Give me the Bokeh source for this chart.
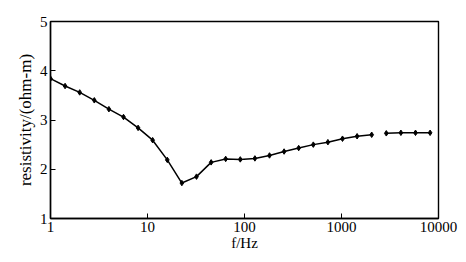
from bokeh.plotting import figure
from bokeh.models import Range1d, FixedTicker
from bokeh.embed import file_html
from bokeh.resources import INLINE

freq = [1, 1.414, 2, 2.83, 4, 5.66, 8, 11.3, 16, 22.6, 32, 45.3, 64, 90.5,
        128, 181, 256, 362, 512, 724, 1024, 1448, 2048, 2896, 4096, 5793, 8192]
resistivity = [3.84, 3.69, 3.56, 3.40, 3.22, 3.06, 2.84, 2.59, 2.19, 1.72, 1.85,
               2.14, 2.21, 2.20, 2.22, 2.28, 2.36, 2.43, 2.50, 2.55, 2.62, 2.67,
               2.70, 2.73, 2.74, 2.74, 2.74]
x_ticks = [1, 10, 100, 1000, 10000]
y_ticks = [1, 2, 3, 4, 5]
split = 23  # the curve is broken between 2048 Hz and 2896 Hz

FONT = "Liberation Serif"

p = figure(width=466, height=262, x_axis_type="log", output_backend="svg",
           toolbar_location=None, x_range=Range1d(1, 10000), y_range=Range1d(1, 5),
           min_border_left=50, min_border_right=28, min_border_top=21, min_border_bottom=44)
p.background_fill_color = "white"
p.border_fill_color = "white"
p.outline_line_color = "black"
p.outline_line_width = 1.4
p.grid.visible = False

p.line(freq[:split], resistivity[:split], line_color="black", line_width=1.5)
p.line(freq[split:], resistivity[split:], line_color="black", line_width=1.5)
p.scatter(freq, resistivity, marker="diamond", size=5.5, fill_color="black", line_color="black")

for ax in (p.xaxis[0], p.yaxis[0]):
    ax.major_tick_in = 5
    ax.major_tick_out = 0
    ax.minor_tick_in = 0
    ax.minor_tick_out = 0
    ax.axis_line_color = "black"
    ax.axis_line_width = 1.4
    ax.major_tick_line_color = "black"
    ax.major_label_text_font = FONT
    ax.major_label_text_font_size = "15px"
    ax.major_label_text_color = "black"
    ax.axis_label_text_font = FONT
    ax.axis_label_text_font_style = "normal"
    ax.axis_label_text_color = "black"

p.xaxis.ticker = FixedTicker(ticks=x_ticks)
p.xaxis.major_label_overrides = {t: str(t) for t in x_ticks}
p.yaxis.ticker = FixedTicker(ticks=y_ticks)
p.xaxis.axis_label = "f/Hz"
p.xaxis.axis_label_text_font_size = "15px"
p.xaxis.axis_label_standoff = 0
p.xaxis.major_label_standoff = 3
p.yaxis.axis_label = "resistivity/(ohm-m)"
p.yaxis.axis_label_text_font_size = "17px"
p.yaxis.axis_label_standoff = 2
p.yaxis.major_label_standoff = 3

open("out.html", "w").write(file_html(p, INLINE))
